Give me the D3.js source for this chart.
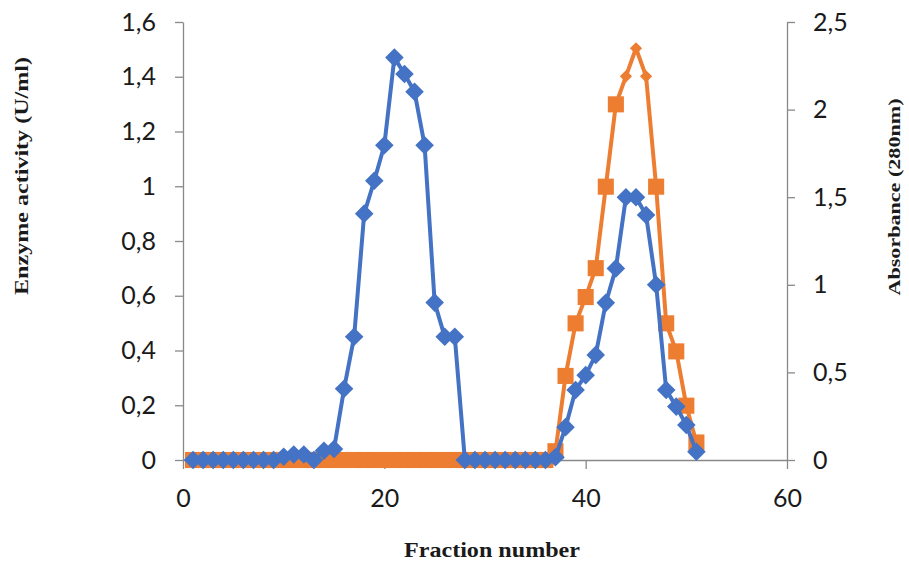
<!DOCTYPE html>
<html><head><meta charset="utf-8">
<script src="https://cdn.jsdelivr.net/npm/d3@7"></script>
<style>body{margin:0;background:#fff}svg{display:block}</style>
</head><body>
<script>
const fractions = [1,2,3,4,5,6,7,8,9,10,11,12,13,14,15,16,17,18,19,20,21,22,23,24,25,26,27,28,29,30,31,32,33,34,35,36,37,38,39,40,41,42,43,44,45,46,47,48,49,50,51];
const enzymeActivity = [0,0,0,0,0,0,0,0,0,0.012,0.02,0.02,0,0.034,0.04,0.26,0.45,0.9,1.02,1.15,1.47,1.41,1.345,1.15,0.575,0.45,0.45,0,0,0,0,0,0,0,0,0,0.01,0.12,0.256,0.31,0.384,0.574,0.70,0.96,0.96,0.895,0.64,0.256,0.195,0.128,0.03];
const absorbance = [0,0,0,0,0,0,0,0,0,0,0,0,0,0,0,0,0,0,0,0,0,0,0,0,0,0,0,0,0,0,0,0,0,0,0,0,0.05,0.48,0.78,0.93,1.095,1.56,2.03,2.19,2.35,2.19,1.56,0.78,0.62,0.31,0.1];
const absDiamondFractions = [44,45,46];
const xTicks = [0,20,40,60];
const leftTicks = [0,0.2,0.4,0.6,0.8,1,1.2,1.4,1.6];
const rightTicks = [0,0.5,1,1.5,2,2.5];
const xTitle = "Fraction number";
const leftTitle = "Enzyme activity (U/ml)";
const rightTitle = "Absorbance (280nm)";

const W = 909, H = 563;
const m = {left:183, right:909-787, top:22, bottom:563-460};
const svg = d3.select("body").append("svg").attr("width",W).attr("height",H);
const x = d3.scaleLinear().domain([0,60]).range([m.left, W-m.right]);
const yL = d3.scaleLinear().domain([0,1.6]).range([H-m.bottom, m.top]);
const yR = d3.scaleLinear().domain([0,2.5]).range([H-m.bottom, m.top]);
const fmt = v => String(v).replace('.', ',');
const blue = "#4472C4", orange = "#ED7D31", axisCol = "#898989";
const tickFont = "Lato, 'Open Sans', sans-serif";

function styleAxis(g){
  g.select(".domain").attr("stroke",axisCol).attr("stroke-width",1.3);
  g.selectAll(".tick line").attr("stroke",axisCol).attr("stroke-width",1.3);
  g.selectAll(".tick text").attr("fill","#1a1a1a").style("font-family",tickFont).style("font-size","25px");
}
svg.append("g").attr("transform",`translate(0,${H-m.bottom})`)
  .call(d3.axisBottom(x).tickValues(xTicks).tickFormat(fmt).tickSize(9).tickPadding(20).tickSizeOuter(0))
  .call(styleAxis);
svg.append("g").attr("transform",`translate(${m.left},0)`)
  .call(d3.axisLeft(yL).tickValues(leftTicks).tickFormat(fmt).tickSize(8).tickPadding(19).tickSizeOuter(0))
  .call(styleAxis);
svg.append("g").attr("transform",`translate(${W-m.right},0)`)
  .call(d3.axisRight(yR).tickValues(rightTicks).tickFormat(fmt).tickSize(8).tickPadding(18).tickSizeOuter(0))
  .call(styleAxis);

// Absorbance series (orange)
const absData = fractions.map((f,i)=>({f, v:absorbance[i]}));
svg.append("path").datum(absData)
  .attr("fill","none").attr("stroke",orange).attr("stroke-width",4).attr("stroke-linejoin","round")
  .attr("d", d3.line().x(d=>x(d.f)).y(d=>yR(d.v)));
svg.append("g").selectAll("path").data(absData).join("path")
  .attr("transform", d=>`translate(${x(d.f)},${yR(d.v)})`)
  .attr("fill",orange)
  .attr("d", d => absDiamondFractions.includes(d.f)
      ? d3.symbol(d3.symbolDiamond2, 95)()
      : d3.symbol(d3.symbolSquare2, 330)());

// Enzyme series (blue)
const enzData = fractions.map((f,i)=>({f, v:enzymeActivity[i]}));
svg.append("path").datum(enzData)
  .attr("fill","none").attr("stroke",blue).attr("stroke-width",4).attr("stroke-linejoin","round")
  .attr("d", d3.line().x(d=>x(d.f)).y(d=>yL(d.v)));
svg.append("g").selectAll("path").data(enzData).join("path")
  .attr("transform", d=>`translate(${x(d.f)},${yL(d.v)})`)
  .attr("fill",blue)
  .attr("d", d3.symbol(d3.symbolDiamond2, 220)());

// Titles
const serif = "'Liberation Serif', 'Times New Roman', serif";
svg.append("text").attr("x",492).attr("y",557).attr("text-anchor","middle")
  .attr("textLength",176).attr("lengthAdjust","spacingAndGlyphs")
  .style("font-family",serif).style("font-weight","bold").style("font-size","22px").attr("fill","#1a1a1a").text(xTitle);
svg.append("text").attr("transform","translate(28,176) rotate(-90)").attr("text-anchor","middle")
  .attr("textLength",238).attr("lengthAdjust","spacingAndGlyphs")
  .style("font-family",serif).style("font-weight","bold").style("font-size","19px").attr("fill","#1a1a1a").text(leftTitle);
svg.append("text").attr("transform","translate(900,197) rotate(-90)").attr("text-anchor","middle")
  .attr("textLength",197).attr("lengthAdjust","spacingAndGlyphs")
  .style("font-family",serif).style("font-weight","bold").style("font-size","17px").attr("fill","#1a1a1a").text(rightTitle);
</script>
</body></html>
